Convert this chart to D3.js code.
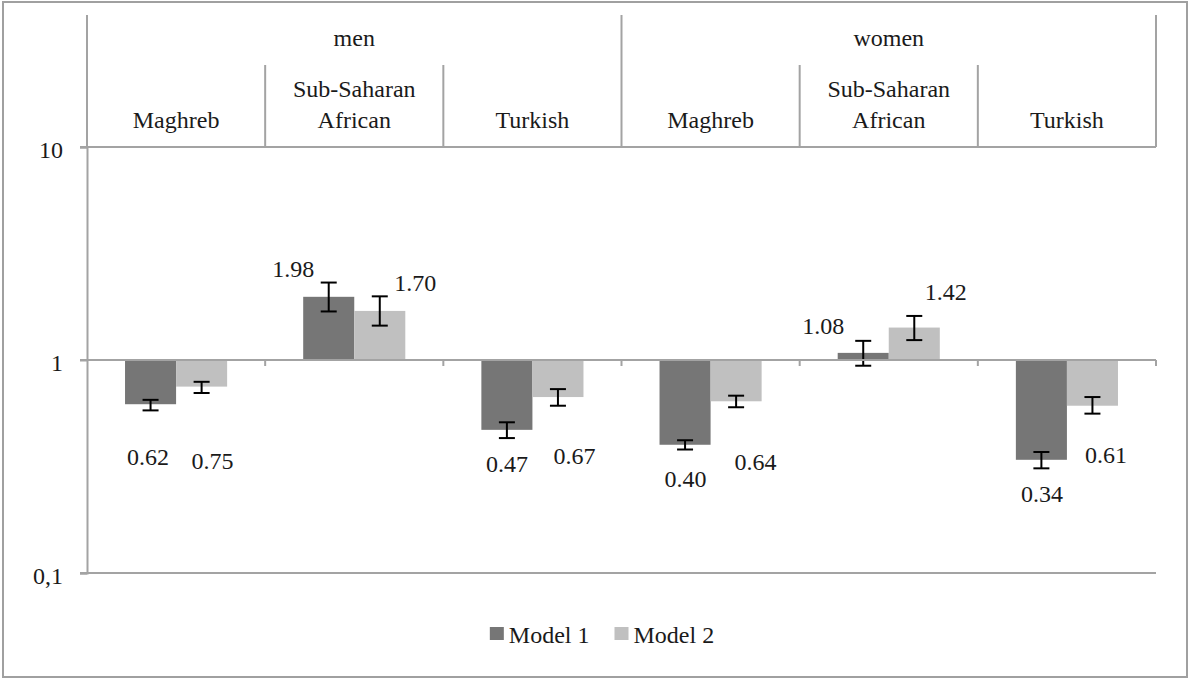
<!DOCTYPE html>
<html>
<head>
<meta charset="utf-8">
<script src="https://cdn.jsdelivr.net/npm/d3@7"></script>
</head>
<body style="margin:0;background:#fff">
<svg id="chart" width="1192" height="680"></svg>
<script>
// ---- data ----
const groups = ["men", "women"];
const origins = ["Maghreb", "Sub-Saharan African", "Turkish"];
const models = ["Model 1", "Model 2"];
// odds ratios, one row per group × origin, columns = models
const model1 = [0.62, 1.98, 0.47, 0.40, 1.08, 0.34];
const model2 = [0.75, 1.70, 0.67, 0.64, 1.42, 0.61];
// 95% confidence limits
const model1Low = [0.58, 1.69, 0.43, 0.38, 0.94, 0.31];
const model1High = [0.65, 2.31, 0.51, 0.42, 1.23, 0.37];
const model2Low = [0.70, 1.45, 0.61, 0.60, 1.24, 0.56];
const model2High = [0.79, 1.99, 0.73, 0.68, 1.61, 0.67];
const yTicks = [0.1, 1, 10];
const yTickLabels = ["0,1", "1", "10"];

// ---- layout ----
const plot = { left: 87, right: 1156, top: 147, bottom: 573, header: 15, subHeader: 65 };
const colors = { "Model 1": "#767676", "Model 2": "#c0c0c0" };
const lineColor = "#a3a3a3";
const fontFamily = "'Liberation Serif'";
const fontSize = "24px";
// hand-placed value label offsets (dx from bar centre, dy from bar end)
const labelNudge = [
  [-2.5, 61], [11, 82],
  [-35.5, -20], [35.5, -20],
  [0, 42], [16.5, 67],
  [0.5, 42], [19.5, 69],
  [-40, -19], [31.5, -27.5],
  [0.5, 42], [13.5, 57]
];

const svg = d3.select("#chart");
const styleText = sel => sel.style("font-family", fontFamily).style("font-size", fontSize).style("fill", "#1a1a1a");

// outer frame
svg.append("rect").attr("x", 3).attr("y", 2).attr("width", 1184).attr("height", 675)
  .attr("fill", "#fff").attr("stroke", "#a0a0a0").attr("stroke-width", 2);

const cats = [];
groups.forEach(g => origins.forEach(o => cats.push(g + "|" + o)));

const x = d3.scaleBand().domain(cats).range([plot.left, plot.right]).padding(0);
const xg = d3.scaleBand().domain(groups).range([plot.left, plot.right]).padding(0);
const xSub = d3.scaleBand().domain(models).range([0, x.bandwidth()]).paddingInner(0).paddingOuter(0.745);
const y = d3.scaleLog().domain([0.1, 10]).range([plot.bottom, plot.top]);

const rows = cats.map((c, i) => ({
  cat: c,
  vals: [
    { model: "Model 1", v: model1[i], lo: model1Low[i], hi: model1High[i], n: labelNudge[i * 2] },
    { model: "Model 2", v: model2[i], lo: model2Low[i], hi: model2High[i], n: labelNudge[i * 2 + 1] }
  ]
}));

const gridG = svg.append("g").attr("stroke", lineColor).attr("stroke-width", 2).attr("fill", "none");

// horizontal lines at 10 and 0.1
[10, 0.1].forEach(v => {
  gridG.append("line").attr("x1", plot.left - 7).attr("x2", plot.right)
    .attr("y1", y(v)).attr("y2", y(v));
});

// y axis
const yAxis = d3.axisLeft(y).tickValues(yTicks).tickFormat((d, i) => yTickLabels[i]).tickSize(7).tickPadding(17);
const yAxisG = svg.append("g").attr("transform", `translate(${plot.left},0)`).call(yAxis);
yAxisG.attr("font-family", null).attr("font-size", null);
yAxisG.select(".domain").attr("stroke", lineColor).attr("stroke-width", 2);
yAxisG.selectAll(".tick line").attr("stroke", lineColor).attr("stroke-width", 2);
styleText(yAxisG.selectAll(".tick text").attr("dy", "0.45em"));

// header frame: group dividers and origin dividers
groups.forEach(g => {
  gridG.append("line").attr("x1", xg(g)).attr("x2", xg(g)).attr("y1", plot.header).attr("y2", plot.top);
});
gridG.append("line").attr("x1", plot.right).attr("x2", plot.right).attr("y1", plot.header).attr("y2", plot.top);
cats.forEach((c, i) => {
  if (i % origins.length !== 0) {
    gridG.append("line").attr("x1", x(c)).attr("x2", x(c)).attr("y1", plot.subHeader).attr("y2", plot.top);
  }
});

// header labels
styleText(svg.append("g").selectAll("text").data(groups).join("text")
  .attr("x", d => xg(d) + xg.bandwidth() / 2).attr("y", 46)
  .attr("text-anchor", "middle").text(d => d));

const catLabels = svg.append("g").selectAll("text").data(cats).join("text")
  .attr("text-anchor", "middle");
styleText(catLabels);
catLabels.each(function (d) {
  const name = d.split("|")[1];
  const cx = x(d) + x.bandwidth() / 2;
  const t = d3.select(this);
  if (name === "Sub-Saharan African") {
    t.append("tspan").attr("x", cx).attr("y", 97).text("Sub-Saharan");
    t.append("tspan").attr("x", cx).attr("y", 128).text("African");
  } else {
    t.attr("x", cx).attr("y", 128).text(name);
  }
});

// bars
const catG = svg.append("g").selectAll("g").data(rows).join("g")
  .attr("transform", d => `translate(${x(d.cat)},0)`);

catG.selectAll("rect").data(d => d.vals).join("rect")
  .attr("x", d => xSub(d.model))
  .attr("width", xSub.bandwidth())
  .attr("y", d => Math.min(y(d.v), y(1)))
  .attr("height", d => Math.abs(y(d.v) - y(1)))
  .attr("fill", d => colors[d.model]);

// category axis crossing at 1
const axisG = svg.append("g").attr("stroke", lineColor).attr("stroke-width", 2);
axisG.append("line").attr("x1", plot.left - 7).attr("x2", plot.right).attr("y1", y(1)).attr("y2", y(1));
cats.concat([null]).forEach((c, i) => {
  const xx = c ? x(c) : plot.right;
  if (i === 0) return;
  axisG.append("line").attr("x1", xx).attr("x2", xx).attr("y1", y(1)).attr("y2", y(1) + 6);
});

// error bars
const cap = 8;
const errG = catG.selectAll("g.err").data(d => d.vals).join("g").attr("class", "err")
  .attr("stroke", "#000").attr("stroke-width", 2);
const mid = d => xSub(d.model) + xSub.bandwidth() / 2;
errG.append("line").attr("x1", mid).attr("x2", mid)
  .attr("y1", d => y(d.lo)).attr("y2", d => y(d.hi));
errG.append("line").attr("x1", d => mid(d) - cap).attr("x2", d => mid(d) + cap)
  .attr("y1", d => y(d.lo)).attr("y2", d => y(d.lo));
errG.append("line").attr("x1", d => mid(d) - cap).attr("x2", d => mid(d) + cap)
  .attr("y1", d => y(d.hi)).attr("y2", d => y(d.hi));

// value labels
styleText(catG.selectAll("text.val").data(d => d.vals).join("text").attr("class", "val")
  .attr("x", d => mid(d) + d.n[0])
  .attr("y", d => y(d.v) + d.n[1])
  .attr("text-anchor", "middle")
  .text(d => d.v.toFixed(2)));

// legend
const legend = svg.append("g");
let lx = 0;
models.forEach(m => {
  const item = legend.append("g").attr("transform", `translate(${lx},0)`);
  item.append("rect").attr("x", 0).attr("y", -16).attr("width", 14).attr("height", 13).attr("fill", colors[m]);
  const t = styleText(item.append("text").attr("x", 19).attr("y", 0).text(m));
  lx += 19 + t.node().getComputedTextLength() + 25;
});
const legendWidth = lx - 25;
legend.attr("transform", `translate(${602 - legendWidth / 2},643)`);
</script>
</body>
</html>
